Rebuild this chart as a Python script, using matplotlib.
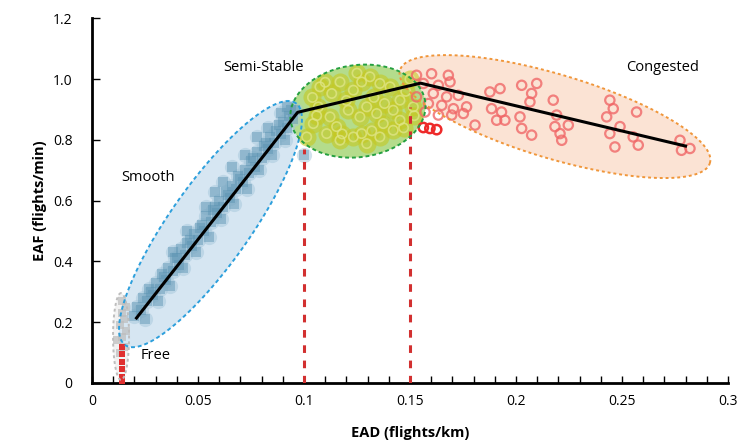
import numpy as np
import matplotlib.pyplot as plt
from matplotlib.patches import Polygon
from matplotlib.ticker import MultipleLocator

plt.rcParams['font.family'] = ['Open Sans', 'DejaVu Sans']

# ---- data ----
# piecewise fit
fit_x = [0.021, 0.097, 0.155, 0.280]
fit_y = [0.214, 0.891, 0.987, 0.780]

# regime borders (dashed red)
border_x = [0.10, 0.15]
border_top = [0.77, 0.91]

# free flow
free_red_x = [0.014, 0.014, 0.014, 0.014, 0.014, 0.014]
free_red_y = [0.02, 0.045, 0.07, 0.095, 0.12, 0.0]
free_grey_x = [0.013, 0.015, 0.014, 0.016, 0.013, 0.015, 0.014, 0.012, 0.016, 0.014]
free_grey_y = [0.10, 0.12, 0.15, 0.17, 0.19, 0.21, 0.23, 0.14, 0.25, 0.27]

# smooth
smooth_x = [0.020, 0.021, 0.023, 0.024, 0.026, 0.027, 0.029, 0.030, 0.032, 0.033,
            0.035, 0.036, 0.038, 0.039, 0.041, 0.042, 0.044, 0.045, 0.047, 0.048,
            0.050, 0.051, 0.053, 0.054, 0.056, 0.057, 0.059, 0.060, 0.062, 0.063,
            0.065, 0.066, 0.068, 0.069, 0.071, 0.072, 0.074, 0.075, 0.077, 0.078,
            0.080, 0.081, 0.083, 0.084, 0.086, 0.087, 0.089, 0.090, 0.092, 0.093,
            0.095, 0.096, 0.025, 0.031, 0.037, 0.043, 0.049, 0.055, 0.061, 0.067,
            0.073, 0.079, 0.085, 0.091, 0.028, 0.040, 0.052, 0.064, 0.076, 0.088,
            0.034, 0.046, 0.058, 0.070, 0.082, 0.094, 0.100, 0.054, 0.062, 0.072,
            0.083, 0.089, 0.045, 0.038, 0.066, 0.078, 0.092, 0.058]
smooth_y = [0.22, 0.25, 0.24, 0.28, 0.27, 0.31, 0.29, 0.33, 0.31, 0.36,
            0.34, 0.38, 0.37, 0.41, 0.39, 0.44, 0.42, 0.46, 0.45, 0.49,
            0.47, 0.51, 0.50, 0.55, 0.53, 0.57, 0.56, 0.60, 0.58, 0.63,
            0.61, 0.65, 0.64, 0.68, 0.66, 0.70, 0.69, 0.73, 0.71, 0.76,
            0.74, 0.78, 0.77, 0.81, 0.79, 0.83, 0.82, 0.86, 0.84, 0.88,
            0.87, 0.90, 0.21, 0.27, 0.32, 0.38, 0.43, 0.48, 0.54, 0.59,
            0.64, 0.70, 0.75, 0.80, 0.30, 0.41, 0.52, 0.62, 0.74, 0.85,
            0.35, 0.47, 0.58, 0.67, 0.79, 0.90, 0.75, 0.58, 0.66, 0.75,
            0.84, 0.89, 0.50, 0.43, 0.71, 0.81, 0.91, 0.63]

# semi-stable
semi_x = [0.1075, 0.1131, 0.1170, 0.1233, 0.1272, 0.1311, 0.1358, 0.1406, 0.1068, 0.1123,
          0.1154, 0.1209, 0.1264, 0.1296, 0.1343, 0.1374, 0.1421, 0.1453, 0.1272, 0.1296,
          0.1233, 0.1170, 0.1107, 0.1044, 0.1013, 0.1358, 0.1421, 0.1453, 0.1516, 0.104,
          0.110, 0.120, 0.133, 0.138, 0.148, 0.150, 0.125, 0.118, 0.132, 0.147,
          0.106, 0.152]
semi_y = [0.975, 0.953, 0.991, 0.964, 0.991, 1.008, 0.986, 0.975, 0.909, 0.876,
          0.844, 0.898, 0.876, 0.909, 0.887, 0.854, 0.898, 0.931, 0.821, 0.788,
          0.810, 0.799, 0.821, 0.854, 0.810, 0.810, 0.832, 0.865, 0.909, 0.940,
          0.990, 0.930, 0.940, 0.920, 0.960, 1.000, 1.020, 0.820, 0.830, 0.840,
          0.880, 0.880]

# congested
cong_x = [0.1531, 0.1602, 0.1681, 0.1563, 0.1634, 0.1689, 0.1610, 0.1673, 0.1728, 0.1587,
          0.1650, 0.1705, 0.1767, 0.1634, 0.1697, 0.1752, 0.1531, 0.1571, 0.1807, 0.1877,
          0.1925, 0.1885, 0.1932, 0.1909, 0.1948, 0.2027, 0.2098, 0.2074, 0.2066, 0.2019,
          0.2027, 0.2074, 0.2176, 0.2192, 0.2247, 0.2184, 0.2208, 0.2216, 0.2443, 0.2459,
          0.2428, 0.2491, 0.2443, 0.2569, 0.2577, 0.2467, 0.2553, 0.2774, 0.2781, 0.2821]
cong_y = [1.013, 1.018, 1.013, 0.986, 0.980, 0.991, 0.953, 0.942, 0.947, 0.920,
          0.914, 0.903, 0.909, 0.882, 0.882, 0.887, 0.942, 0.892, 0.849, 0.958,
          0.969, 0.903, 0.892, 0.865, 0.865, 0.980, 0.986, 0.953, 0.925, 0.876,
          0.838, 0.816, 0.931, 0.882, 0.849, 0.844, 0.821, 0.799, 0.931, 0.903,
          0.876, 0.844, 0.821, 0.892, 0.783, 0.777, 0.810, 0.799, 0.766, 0.772]
cong_low_x = [0.1563, 0.1594, 0.1626]
cong_low_y = [0.841, 0.838, 0.834]

x_ticks = [0, 0.05, 0.1, 0.15, 0.2, 0.25, 0.3]
x_labels = ['0', '0.05', '0.1', '0.15', '0.2', '0.25', '0.3']
y_ticks = [0, 0.2, 0.4, 0.6, 0.8, 1.0, 1.2]
y_labels = ['0', '0.2', '0.4', '0.6', '0.8', '1.0', '1.2']


def ellipse(ax, p1, p2, minor_px, face, edge, ls):
    # ellipse from the two ends of its long axis (data) and half width in pixels
    a = ax.transData.transform(p1)
    b = ax.transData.transform(p2)
    c = (a + b) / 2
    u = (b - a) / 2
    v = np.array([-u[1], u[0]]) / np.hypot(*u) * minor_px
    t = np.linspace(0, 2 * np.pi, 200)
    pts = c + np.outer(np.cos(t), u) + np.outer(np.sin(t), v)
    pts = ax.transData.inverted().transform(pts)
    ax.add_patch(Polygon(pts, closed=True, facecolor=face, edgecolor='none', zorder=1))
    ax.add_patch(Polygon(pts, closed=True, facecolor='none', edgecolor=edge,
                         linestyle=ls, linewidth=1.4, zorder=5))


fig = plt.figure(figsize=(7.39, 4.47), dpi=100)
ax = fig.add_axes([0.1245, 0.1432, 0.8605, 0.8155])
ax.set_xlim(0, 0.3)
ax.set_ylim(0, 1.2)

ellipse(ax, (0.0137, 0.010), (0.0137, 0.296), 8, '#f2f2f2', '#bdbdbd', (0, (1.5, 1.5)))
ellipse(ax, (0.0156, 0.125), (0.0962, 0.921), 40, '#d6e6f2', '#2c9fdc', (0, (2, 1.5)))
ellipse(ax, (0.1453, 1.030), (0.2915, 0.724), 42, '#fbe3d4', '#f0963a', (0, (1.5, 1.5)))
ellipse(ax, (0.0937, 0.864), (0.1572, 0.926), 46, '#b4dc8c', '#25a040', (0, (2, 1.5)))

ax.scatter(free_grey_x, free_grey_y, marker='s', s=30, color='#bdbdbd', alpha=0.7,
           linewidths=0, zorder=2)
ax.scatter(smooth_x, smooth_y, marker='o', s=120, color='#a6c7db', alpha=0.5,
           linewidths=0, zorder=2)
ax.scatter(smooth_x, smooth_y, marker='s', s=45, color='#5b93b2', alpha=0.45,
           linewidths=0, zorder=2)
ax.scatter(semi_x, semi_y, marker='o', s=170, color='#c6c922', alpha=0.6,
           linewidths=0, zorder=2)
ax.scatter(semi_x, semi_y, marker='o', s=45, facecolors='none', edgecolors='#dfe585',
           linewidths=1.2, alpha=0.8, zorder=2)
ax.scatter(cong_x, cong_y, marker='o', s=45, facecolors='none', edgecolors='#f06767',
           linewidths=1.6, alpha=0.8, zorder=3)
ax.scatter(cong_low_x, cong_low_y, marker='o', s=45, facecolors='none', edgecolors='#ee2a2a',
           linewidths=1.8, zorder=3)

for bx, top in zip(border_x, border_top):
    ax.plot([bx, bx], [0, top], color='#d23030', linestyle=(0, (2.5, 2.5)), linewidth=2.2,
            zorder=4)
ax.scatter(free_red_x, free_red_y, marker='s', s=14, color='#e03030', linewidths=0, zorder=4)

ax.plot(fit_x, fit_y, color='black', linewidth=2.2, zorder=6)

ax.text(0.0265, 0.678, 'Smooth', fontsize=10.5, ha='center', va='center')
ax.text(0.081, 1.04, 'Semi-Stable', fontsize=10.5, ha='center', va='center')
ax.text(0.269, 1.04, 'Congested', fontsize=10.5, ha='center', va='center')
ax.text(0.030, 0.092, 'Free', fontsize=10.5, ha='center', va='center')

ax.spines['top'].set_visible(False)
ax.spines['right'].set_visible(False)
ax.spines['left'].set_linewidth(2)
ax.spines['bottom'].set_linewidth(2)
ax.set_xticks(x_ticks)
ax.set_xticklabels(x_labels)
ax.set_yticks(y_ticks)
ax.set_yticklabels(y_labels)
ax.xaxis.set_minor_locator(MultipleLocator(0.01))
ax.tick_params(axis='x', which='both', direction='in', length=5, width=1, pad=8,
               labelsize=10)
ax.tick_params(axis='y', direction='in', length=6, width=1, pad=14, labelsize=10)
ax.set_xlabel('EAD (flights/km)', fontsize=10.5, fontweight='bold', labelpad=12)
ax.set_ylabel('EAF (flights/min)', fontsize=10.5, fontweight='bold', labelpad=4)

fig.savefig('out.png', dpi=100)
